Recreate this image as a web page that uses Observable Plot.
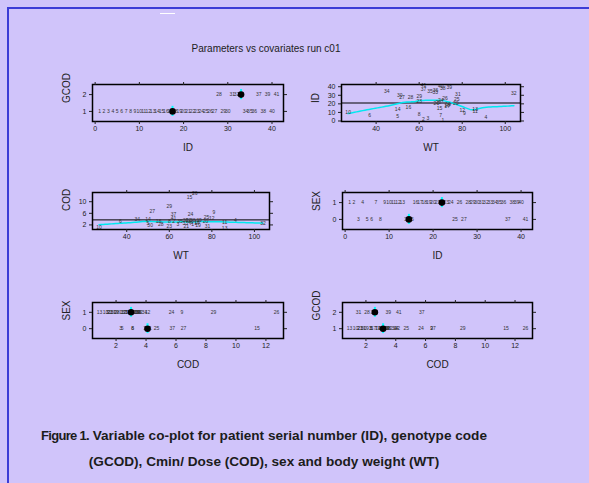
<!DOCTYPE html>
<html><head><meta charset="utf-8">
<script src="https://cdn.jsdelivr.net/npm/d3@7"></script>
<script src="https://cdn.jsdelivr.net/npm/@observablehq/plot@0.6"></script>
<style>
html,body{margin:0;padding:0;background:#d0c4fa;}
#page{position:relative;width:589px;height:483px;background:#d0c4fa;overflow:hidden;font-family:"Liberation Sans",Arial,sans-serif;}
#border{position:absolute;left:7px;top:7px;width:700px;height:600px;border-left:2px solid #3c3cd6;border-top:2px solid #3c3cd6;}
#dash{position:absolute;left:160px;top:13px;width:15px;height:1px;background:#fff;}
#title{position:absolute;left:8px;width:516px;top:43px;text-align:center;font-size:10px;line-height:12px;color:#222;}
#caption{position:absolute;left:0px;width:528px;top:423px;text-align:center;font-size:13.6px;line-height:26px;color:#1c1c1c;font-weight:bold;white-space:nowrap;}
#caption .fig{font-weight:900;letter-spacing:-0.7px;font-size:13px;}
.panel{position:absolute;}
</style>
</head><body>
<div id="page">
  <div id="border"></div>
  <div id="dash"></div>
  <div id="title">Parameters vs covariates run c01</div>
  <div id="caption"><span class="fig">Figure 1.</span> Variable co-plot for patient serial number (ID), genotype code<br>(GCOD), Cmin/ Dose (COD), sex and body weight (WT)</div>
</div>
<script>
// ---- data ----
const ID   = [1,2,3,4,5,6,7,8,9,10,11,12,13,14,15,16,17,18,19,20,21,22,23,24,25,26,27,28,29,30,31,32,33,34,35,36,37,38,39,40,41];
const WT   = [71,62,64,91,50,37,70,60,81,27,86,80,86,50,69.5,55,73,73,73.5,77,68,69,60,70,77.5,72,52,56,60,51,78,104,67.5,45,65,67.6,62,71,74,70,62];
const COD  = [2.3,3.3,2.3,3.5,2.4,3.1,2.7,3.1,6.4,1.3,2.8,4.1,0.9,4.0,11.4,3.2,2.5,3.0,2.0,3.3,1.6,3.6,1.6,5.7,4.7,12.7,6.5,2.07,8.5,1.85,1.5,2.5,2.6,3.9,3.1,3.4,5.75,3.5,3.5,3.0,4.2];
const SEX  = [1,1,0,1,0,0,1,0,1,1,1,1,1,0,0,1,1,1,1,1,1,1,1,1,0,1,0,1,1,1,1,1,1,1,1,1,0,1,1,1,0];
const GCOD = [1,1,1,1,1,1,1,1,1,1,1,1,1,1,1,1,1,1,1,1,1,1,1,1,1,1,1,2,1,1,2,2,2,1,1,1,2,1,2,1,2];

const idTicks  = [0,10,20,30,40];
const wtTicks  = [40,60,80,100];
const codTicks = [2,4,6,8,10,12];
const codYTicks = [2,6,10];
const gcodLevels = [1,2];
const sexLevels  = [0,1];

const rows = ID.map((id,i)=>({ID:id, WT:WT[i], COD:COD[i], SEX:SEX[i], GCOD:GCOD[i]}));

// ---- helpers ----
function padDomain(vals){ const [a,b]=d3.extent(vals); const r=b-a; return [a-0.04*r, b+0.04*r]; }
function catDomain(levels){ return [d3.min(levels)-0.6, d3.max(levels)+0.6]; }
// local linear fit at x with tricube * robustness weights
function fitAt(x, xs, ys, rw, q){
  const d=xs.map(v=>Math.abs(v-x));
  const h=d.slice().sort((a,b)=>a-b)[q-1]*1.000001+1e-9;
  let sw=0,sx=0,sy=0,sxx=0,sxy=0;
  for(let j=0;j<xs.length;j++){
    const u=d[j]/h; if(u>=1) continue;
    const w=Math.pow(1-u*u*u,3)*rw[j], t=xs[j]-x;
    sw+=w; sx+=w*t; sy+=w*ys[j]; sxx+=w*t*t; sxy+=w*t*ys[j];
  }
  const det=sw*sxx-sx*sx;
  return Math.abs(det)>1e-12 ? (sy*sxx - sx*sxy)/det : sy/sw;
}
// lowess-style smoother: span 2/3, degree 1, 3 robustness iterations
function smooth(xs, ys, span=2/3, n=80, iter=3){
  const q=Math.floor(span*xs.length);
  let rw=xs.map(()=>1);
  for(let it=0;it<iter;it++){
    const res=xs.map((x,i)=>ys[i]-fitAt(x,xs,ys,rw,q));
    const s=d3.median(res.map(Math.abs))||1e-9;
    rw=res.map(r=>{const u=r/(6*s); return Math.abs(u)<1?(1-u*u)**2:0;});
  }
  const [x0,x1]=d3.extent(xs);
  return d3.range(n).map(i=>{const x=x0+(x1-x0)*i/(n-1); return {x, y:fitAt(x,xs,ys,rw,q)};});
}

const panels = [
  {x:"ID",  y:"GCOD", cat:true, xTicks:idTicks,  yTicks:gcodLevels, box:{L:92,R:283,T:84,B:121}},
  {x:"WT",  y:"ID",   cat:false,xTicks:wtTicks,  yTicks:idTicks,    box:{L:341,R:520,T:84,B:121}},
  {x:"WT",  y:"COD",  cat:false,xTicks:wtTicks,  yTicks:codYTicks,  box:{L:92,R:269,T:192,B:229}},
  {x:"ID",  y:"SEX",  cat:true, xTicks:idTicks,  yTicks:sexLevels,  box:{L:342,R:532,T:192,B:229}},
  {x:"COD", y:"SEX",  cat:true, xTicks:codTicks, yTicks:sexLevels,  box:{L:92,R:283,T:302,B:338}},
  {x:"COD", y:"GCOD", cat:true, xTicks:codTicks, yTicks:gcodLevels, box:{L:342,R:532,T:302,B:338}}
];

const page = document.getElementById("page");
const fmt = d => String(d);
for (const s of panels){
  const {L,R,T,B}=s.box;
  const mL=44, mR=10, mT=8, mB=44;
  const xs=rows.map(d=>d[s.x]), ys=rows.map(d=>d[s.y]);
  const yDom = s.cat ? catDomain(s.yTicks) : padDomain(ys);
  const marks=[];
  if (s.cat){
    const meds = d3.rollups(rows, v=>d3.median(v, d=>d[s.x]), d=>d[s.y]).map(([k,m])=>({y:k, x:m}));
    marks.push(Plot.text(rows,{x:s.x, y:s.y, text:"ID", fontSize:5, fill:"#333"}));
    marks.push(Plot.ruleX(meds,{x:"x", y1:d=>d.y-0.3, y2:d=>d.y+0.3, stroke:"#00ffff", strokeWidth:2}));
    marks.push(Plot.dot(meds,{x:"x", y:"y", r:3.3, fill:"black", stroke:"none"}));
  } else {
    marks.push(Plot.ruleY([d3.mean(ys)],{stroke:"black", strokeWidth:1}));
    marks.push(Plot.line(smooth(xs,ys),{x:"x", y:"y", stroke:"#00e8f0", strokeWidth:1.5}));
    marks.push(Plot.text(rows,{x:s.x, y:s.y, text:"ID", fontSize:5, fill:"#333"}));
  }
  marks.push(Plot.frame({stroke:"black", strokeWidth:1.5}));
  marks.push(Plot.axisX({anchor:"bottom", ticks:s.xTicks, tickFormat:fmt, tickSize:3, tickPadding:2, fontSize:7, label:null}));
  marks.push(Plot.axisX({anchor:"top", ticks:s.xTicks, tickSize:3, tickFormat:()=>"", label:null}));
  marks.push(Plot.axisY({anchor:"left", ticks:s.yTicks, tickFormat:fmt, tickSize:3, tickPadding:3, fontSize:7, label:null}));
  marks.push(Plot.axisY({anchor:"right", ticks:s.yTicks, tickSize:3, tickFormat:()=>"", label:null}));
  marks.push(Plot.text([s.x],{frameAnchor:"bottom", dy:29, text:d=>d, fontSize:10, fill:"#222"}));
  marks.push(Plot.text([s.y],{frameAnchor:"left", dx:-26, rotate:-90, text:d=>d, fontSize:10, fill:"#222"}));
  const chart = Plot.plot({
    width:(R-L)+mL+mR, height:(B-T)+mT+mB,
    marginLeft:mL, marginRight:mR, marginTop:mT, marginBottom:mB,
    x:{domain:padDomain(xs)}, y:{domain:yDom},
    style:{background:"transparent", fontFamily:"Liberation Sans, Arial, sans-serif", color:"#222", overflow:"visible"},
    marks
  });
  chart.classList.add("panel");
  chart.style.left=(L-mL)+"px"; chart.style.top=(T-mT)+"px";
  chart.style.position="absolute";
  page.appendChild(chart);
}
</script>
</body></html>
